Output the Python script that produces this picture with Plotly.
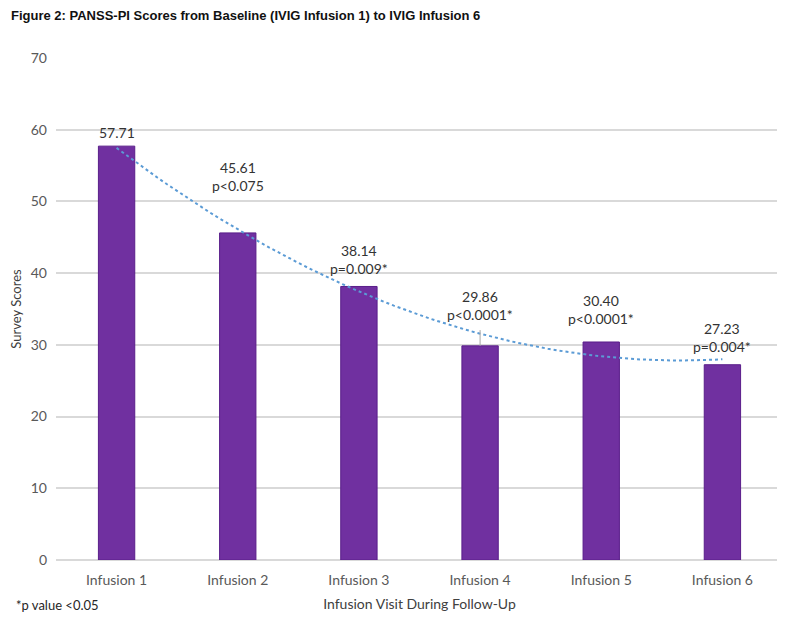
import numpy as np
import plotly.graph_objects as go

infusions = ['Infusion 1', 'Infusion 2', 'Infusion 3', 'Infusion 4', 'Infusion 5', 'Infusion 6']
scores = [57.71, 45.61, 38.14, 29.86, 30.40, 27.23]
p_values = ['', 'p<0.075', 'p=0.009*', 'p<0.0001*', 'p<0.0001*', 'p=0.004*']

# courbe de tendance polynomiale (ordre 2), comme dans Excel
xs = np.arange(1, len(scores) + 1)
coef = np.polyfit(xs, scores, 2)
x_fin = np.linspace(1, len(scores), 60)
tendance = np.polyval(coef, x_fin)

fig = go.Figure()
fig.add_trace(go.Bar(x=xs, y=scores, width=0.3,
                     marker=dict(color='#7030A0', line=dict(color='#5A1E8A', width=1)),
                     showlegend=False, hoverinfo='skip'))
fig.add_trace(go.Scatter(x=x_fin, y=tendance, mode='lines',
                         line=dict(color='#5B9BD5', width=2, dash='dot'),
                         showlegend=False, hoverinfo='skip'))

# étiquettes au-dessus des barres
decalages = [3, 37, 7, 21, 13, 8]
for i, (s, p) in enumerate(zip(scores, p_values)):
    texte = f'{s:.2f}' if not p else f'{s:.2f}<br>{p}'
    fig.add_annotation(x=xs[i], y=s, text=texte, showarrow=False,
                       yanchor='bottom', yshift=decalages[i],
                       font=dict(family='Lato', size=14, color='#333333'))

# petit trait de rappel sous l'étiquette de la barre 4
fig.add_shape(type='line', xref='x', yref='y', x0=xs[3], x1=xs[3], y0=scores[3], y1=scores[3] + 2.2,
              line=dict(color='#A6A6A6', width=1))

fig.add_annotation(text='<b>Figure 2: PANSS-PI Scores from Baseline (IVIG Infusion 1) to IVIG Infusion 6</b>',
                   xref='paper', yref='paper', x=-0.064, y=1.084, xanchor='left', yanchor='middle',
                   showarrow=False, font=dict(family='Liberation Sans', size=13, color='#111111'))
fig.add_annotation(text='*p value <0.05', xref='paper', yref='paper', x=-0.058, y=-0.09,
                   xanchor='left', yanchor='middle', showarrow=False,
                   font=dict(family='Lato', size=13, color='#262626'))

fig.update_layout(
    width=777, height=615,
    margin=dict(l=43, r=2, t=50, b=63),
    plot_bgcolor='white', paper_bgcolor='white',
    font=dict(family='Lato', color='#595959', size=14),
    xaxis=dict(tickvals=list(xs), ticktext=infusions, range=[0.5, 6.5],
               showgrid=False, zeroline=False, showline=False, ticklabelstandoff=10,
               title=dict(text='Infusion Visit During Follow-Up', font=dict(size=14, color='#404040'), standoff=12),
               tickfont=dict(size=14, color='#595959')),
    yaxis=dict(range=[0, 70], dtick=10, showgrid=True, gridcolor='#D9D9D9', gridwidth=1.5,
               zeroline=True, zerolinecolor='#D9D9D9', zerolinewidth=1.5, showline=False,
               title=dict(text='Survey Scores', font=dict(size=13, color='#404040'), standoff=12),
               tickfont=dict(size=14, color='#595959'), ticklabelstandoff=8),
)

fig.write_html('out.html')
